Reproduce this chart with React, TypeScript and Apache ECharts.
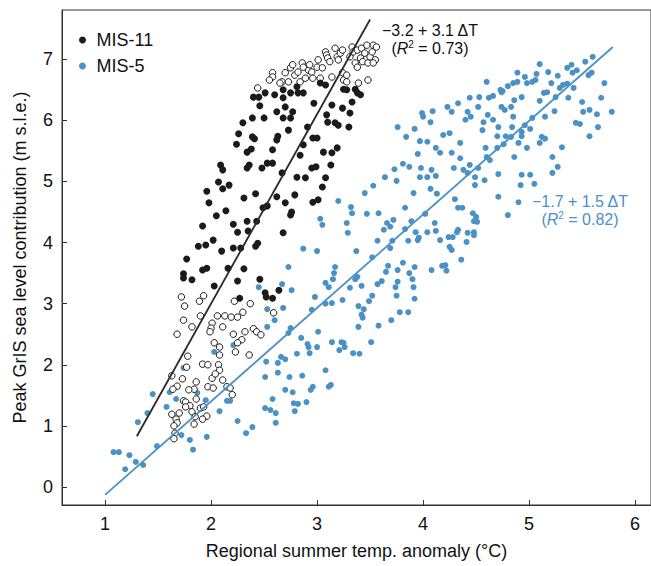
import React, { useEffect, useRef } from "react";
import * as echarts from "echarts";

const FONT = '"Liberation Sans", Arial, Helvetica, sans-serif';
const BLACK = "#1b1b1b";
const BLUE = "#4a91c6";

const xTicks = [1, 2, 3, 4, 5, 6];
const yTicks = [0, 1, 2, 3, 4, 5, 6, 7];

// MIS-11, filled markers
const mis11Filled: number[][] = [
  [2.40, 6.38], [2.45, 6.38], [2.51, 6.45], [2.46, 6.24], [2.30, 5.96], [2.39, 6.04], [2.50, 6.04],
  [2.26, 5.78], [2.39, 5.73], [2.41, 5.70], [2.24, 5.61], [2.34, 5.48], [2.38, 5.53], [2.09, 5.27],
  [2.11, 5.19], [2.34, 5.22], [2.36, 5.27], [2.48, 5.22], [2.53, 5.30], [2.07, 4.99], [2.11, 4.88],
  [2.17, 4.94], [1.96, 4.84], [1.98, 4.65], [2.31, 4.73], [2.42, 4.80], [2.49, 4.57], [2.53, 4.60],
  [2.05, 4.44], [2.14, 4.52], [1.92, 4.27], [2.21, 4.30], [2.34, 4.35], [2.43, 4.35], [2.25, 4.17],
  [2.35, 4.19], [1.88, 3.94], [1.95, 3.96], [2.02, 4.04], [2.10, 3.86], [2.21, 3.91], [2.28, 3.91],
  [2.42, 3.94], [2.44, 3.99], [1.77, 3.73], [1.74, 3.49], [1.74, 3.42], [1.82, 3.39], [1.92, 3.55],
  [1.96, 3.58], [2.16, 3.58], [2.31, 3.57], [2.03, 3.29], [2.25, 3.37], [2.46, 3.40], [2.27, 3.09],
  [2.51, 3.18], [2.52, 3.11], [2.58, 3.09], [2.64, 3.22],
  [2.60, 6.42], [2.68, 6.50], [2.68, 6.37], [2.75, 6.45], [2.81, 6.55], [2.82, 6.45], [2.87, 6.45],
  [2.62, 6.14], [2.70, 6.22], [2.77, 6.14], [2.68, 6.04], [2.75, 6.04], [2.63, 5.74], [2.73, 5.84],
  [2.62, 5.68], [2.58, 5.52], [2.58, 5.30], [2.91, 5.89], [2.96, 5.71], [3.00, 5.71], [2.87, 5.60],
  [2.84, 5.43], [2.67, 5.14], [2.81, 5.07], [2.89, 5.06], [2.95, 5.22], [3.08, 5.06], [3.14, 5.47],
  [3.19, 5.55], [3.13, 5.27], [3.05, 4.91], [2.96, 4.66], [3.01, 4.70], [2.62, 4.75], [2.70, 4.65],
  [2.76, 4.50], [2.75, 4.45], [2.79, 4.78], [2.68, 4.16], [3.10, 5.97], [3.17, 5.96], [3.20, 5.92],
  [3.30, 5.89], [3.14, 6.25], [3.24, 6.20], [3.31, 6.12], [3.33, 6.30], [3.25, 6.51], [3.36, 6.51],
  [3.38, 6.45], [3.03, 6.61], [3.08, 6.58], [3.28, 6.50], [3.41, 6.42], [2.97, 6.28], [3.09, 6.09],
  [3.06, 5.48], [2.99, 5.24],
];

// MIS-11, open markers
const mis11Open: number[][] = [
  [2.44, 6.53], [2.58, 6.78], [2.58, 6.71], [2.70, 6.78], [2.67, 6.63], [2.73, 6.63], [2.75, 6.86],
  [2.77, 6.91], [2.79, 6.74], [2.82, 6.79], [2.86, 6.94], [2.87, 6.87], [2.89, 6.69], [2.92, 6.82],
  [2.93, 6.91], [2.95, 6.79], [2.96, 6.69], [3.00, 6.87], [3.01, 6.99], [3.03, 6.69], [3.05, 6.86],
  [3.08, 7.12], [3.09, 7.07], [3.10, 7.02], [3.12, 6.96], [3.14, 6.71], [3.17, 7.18], [3.19, 7.04],
  [3.20, 6.99], [3.22, 7.10], [3.24, 7.15], [3.24, 6.78], [3.25, 6.66], [3.28, 6.74], [3.31, 7.04],
  [3.33, 7.20], [3.34, 7.12], [3.36, 6.94], [3.38, 7.15], [3.38, 6.87], [3.39, 6.61], [3.41, 7.02],
  [3.42, 7.18], [3.43, 6.96], [3.45, 7.10], [3.47, 7.23], [3.48, 6.94], [3.50, 7.04], [3.52, 7.12],
  [3.53, 7.23], [3.55, 6.99], [3.48, 6.66], [3.28, 6.63], [3.53, 6.94], [3.56, 7.20], [2.55, 6.66],
  [2.65, 6.61], [2.84, 6.63],
  [1.72, 3.11], [1.75, 2.96], [1.89, 3.04], [1.93, 3.13], [1.74, 2.73], [1.82, 2.62], [1.90, 2.80],
  [1.68, 2.50], [2.01, 2.68], [2.00, 2.60], [1.99, 2.54], [2.06, 2.80], [2.13, 2.80], [2.19, 2.78],
  [2.25, 2.78], [2.30, 2.86], [2.37, 3.00], [2.22, 3.04], [2.11, 2.62], [2.21, 2.50], [2.32, 2.54],
  [2.40, 2.59], [2.43, 2.54], [2.47, 2.49], [2.03, 2.36], [2.08, 2.29], [2.08, 2.16], [2.29, 2.41],
  [2.25, 2.36], [2.23, 2.21], [2.36, 2.16], [1.78, 2.14], [1.77, 1.96], [1.63, 1.82], [1.73, 1.77],
  [1.92, 2.01], [1.97, 2.00], [2.07, 2.00], [2.08, 1.91], [2.01, 1.78], [2.04, 1.85], [2.11, 1.75],
  [1.86, 1.72], [1.84, 1.60], [1.79, 1.59], [1.68, 1.65], [1.64, 1.60], [1.97, 1.64], [2.02, 1.62],
  [2.15, 1.64], [2.18, 1.62], [2.20, 1.51], [1.74, 1.41], [1.76, 1.39], [1.80, 1.33], [1.76, 1.31],
  [1.86, 1.44], [1.63, 1.19], [1.70, 1.21], [1.67, 1.11], [1.68, 1.05], [1.65, 1.00], [1.66, 0.88],
  [1.65, 0.79], [1.82, 1.23], [1.85, 1.15], [1.84, 1.03], [1.90, 1.29], [1.93, 1.31], [1.96, 1.16],
  [1.92, 1.11], [2.59, 2.85],
];

// MIS-5
const mis5: number[][] = [
  [1.08, 0.57], [1.13, 0.57], [1.23, 0.52], [1.19, 0.29], [1.29, 0.41], [1.36, 0.36], [1.31, 1.06],
  [1.40, 1.21], [1.45, 1.52], [1.49, 0.67], [1.58, 1.31], [1.61, 1.55], [1.67, 1.44], [1.74, 1.95],
  [1.72, 0.85], [1.80, 0.77], [1.83, 0.61], [1.87, 1.54], [1.95, 1.42], [1.96, 0.82], [2.03, 2.21],
  [2.08, 1.24], [2.15, 1.41], [2.18, 1.41], [2.25, 1.08], [2.33, 0.88], [2.39, 0.98], [2.21, 2.32],
  [2.36, 2.16], [2.45, 3.27], [2.51, 1.80], [2.51, 1.29], [2.53, 2.91], [2.56, 1.26], [2.60, 2.73],
  [2.58, 1.44], [2.61, 1.21], [2.61, 1.05], [2.53, 2.62], [2.52, 2.05], [2.63, 2.03], [2.68, 2.93],
  [2.63, 1.87], [2.66, 2.13], [2.70, 2.09], [2.73, 2.52], [2.75, 2.60], [2.73, 3.60], [2.76, 3.22],
  [2.70, 1.59], [2.77, 1.55], [2.79, 1.24], [2.81, 2.18], [2.82, 1.36], [2.85, 2.44], [2.86, 1.82],
  [2.90, 1.39], [2.91, 2.34], [2.92, 2.29], [2.93, 2.19], [2.94, 1.59], [2.98, 3.11], [2.95, 2.90],
  [3.00, 2.29], [3.01, 2.54], [3.08, 1.91], [3.08, 3.34], [3.11, 3.27], [3.11, 1.64], [3.13, 1.67],
  [3.14, 3.01], [3.16, 3.50], [3.17, 3.60], [3.15, 3.40], [3.23, 2.37], [3.25, 2.36], [3.26, 2.29],
  [3.24, 3.06], [3.21, 2.24], [3.31, 3.26], [3.36, 3.40], [3.34, 2.19], [3.39, 2.96], [3.39, 2.62],
  [3.40, 2.18], [3.44, 2.91], [3.42, 2.82], [3.43, 2.77], [3.49, 3.04], [3.52, 3.13], [3.08, 3.00],
  [3.42, 3.29], [3.38, 3.44], [3.57, 3.32], [3.61, 3.37], [3.65, 3.52], [3.67, 3.62], [3.52, 3.76],
  [3.69, 3.91], [3.76, 3.55], [3.81, 3.67], [3.92, 3.60], [3.87, 3.50], [3.90, 3.40], [3.76, 3.36],
  [3.74, 3.27], [3.91, 3.27], [3.75, 3.13], [3.92, 3.08], [3.78, 2.86], [3.86, 2.86], [3.70, 2.73],
  [3.58, 2.64], [3.51, 2.37], [3.14, 2.37], [2.74, 1.80], [2.96, 1.64], [2.78, 1.37], [4.08, 3.55],
  [4.18, 3.62], [4.22, 3.54], [4.36, 3.72], [4.27, 3.88], [4.24, 4.09], [4.28, 4.09], [4.41, 4.01],
  [4.48, 4.12], [4.21, 3.63], [3.57, 4.03], [3.71, 4.03], [3.86, 4.03], [3.96, 4.08], [2.87, 3.90],
  [3.00, 3.86], [3.37, 3.86], [2.67, 3.32],
  [3.99, 6.12], [4.09, 6.15], [4.00, 6.06], [4.07, 5.97], [3.76, 5.89], [3.92, 5.86], [3.84, 5.73],
  [3.97, 5.66], [4.04, 5.65], [4.12, 5.55], [4.16, 5.47], [4.19, 5.76], [3.81, 5.29], [3.87, 5.24],
  [3.98, 5.22], [4.08, 5.19], [3.73, 5.20], [3.64, 5.07], [3.75, 5.01], [3.97, 5.07], [4.04, 5.07],
  [4.12, 5.09], [4.07, 4.88], [4.13, 4.80], [3.91, 4.81], [3.53, 4.93], [3.45, 4.81], [3.20, 4.68],
  [3.32, 4.58], [3.33, 4.48], [3.47, 4.47], [3.58, 4.48], [3.83, 4.57], [4.02, 4.47], [3.03, 4.39],
  [3.05, 4.29], [3.28, 4.32], [3.29, 4.16], [3.66, 4.32], [3.69, 4.26], [3.63, 4.21], [3.83, 4.22],
  [3.89, 4.35], [3.93, 4.17], [4.04, 4.17], [4.11, 4.32], [4.16, 4.04], [4.25, 3.93], [4.32, 4.17],
  [4.42, 4.16], [3.95, 5.45], [3.72, 4.37], [4.12, 4.19], [3.95, 4.04],
  [4.60, 6.63], [4.73, 6.50], [4.75, 6.48], [4.80, 6.56], [4.85, 6.61], [4.89, 6.63], [4.89, 6.78],
  [4.96, 6.71], [4.98, 6.61], [5.03, 6.63], [5.06, 6.66], [5.07, 6.76], [5.10, 6.92], [5.18, 6.79],
  [5.21, 6.61], [5.27, 6.73], [5.32, 6.58], [5.36, 6.60], [5.40, 6.91], [5.36, 6.86], [5.41, 6.78],
  [5.45, 6.82], [5.53, 6.96], [5.60, 7.04], [5.59, 6.78], [5.56, 6.74], [5.71, 6.61], [5.68, 6.37],
  [5.78, 6.14], [5.64, 6.10], [5.65, 5.89], [5.57, 5.74], [5.51, 6.14], [5.57, 6.17], [5.50, 6.30],
  [5.44, 5.96], [5.48, 5.94], [5.37, 6.37], [5.42, 6.53], [5.29, 6.53], [5.25, 6.38], [5.17, 6.46],
  [5.14, 6.45], [5.10, 6.32], [5.24, 6.15], [5.15, 6.06], [5.03, 6.04], [4.93, 6.38], [4.86, 6.33],
  [4.83, 6.22], [4.85, 6.06], [4.77, 6.17], [4.74, 6.22], [4.74, 6.46], [4.66, 6.40], [4.62, 6.37],
  [4.53, 6.38], [4.52, 6.22], [4.44, 6.37], [4.33, 6.28], [4.27, 6.14], [4.23, 6.22], [4.42, 6.14],
  [4.40, 6.01], [4.45, 6.06], [4.61, 6.09], [4.66, 6.01], [4.57, 5.97], [4.71, 5.89], [4.56, 5.84],
  [4.84, 5.89], [4.96, 5.92], [5.01, 5.86], [4.93, 5.81], [4.93, 5.74], [4.83, 5.73], [4.70, 5.74],
  [4.78, 5.74], [4.76, 5.61], [4.90, 5.63], [5.12, 5.73], [5.15, 5.70], [5.10, 5.63], [5.31, 5.56],
  [4.98, 5.55], [4.70, 5.55], [4.59, 5.55], [4.35, 5.63], [4.25, 5.79], [4.27, 5.47], [4.35, 5.38],
  [4.44, 5.27], [4.60, 5.40], [4.63, 5.35], [4.52, 5.22], [4.38, 5.19], [4.29, 5.22], [4.42, 5.14],
  [4.49, 5.07], [4.49, 4.94], [4.58, 5.02], [4.71, 5.12], [4.86, 5.40], [4.93, 5.11], [5.01, 5.11],
  [4.92, 4.94], [5.05, 4.96], [5.22, 5.40], [5.27, 5.24], [5.22, 5.14], [4.71, 4.75], [4.90, 4.66],
  [4.80, 4.45], [4.30, 4.71], [4.33, 4.57], [4.37, 4.57], [4.47, 4.48], [4.50, 4.42], [4.48, 4.35],
  [4.51, 4.34], [4.33, 4.21], [4.48, 4.17],
];

// regression lines (end points)
const mis11Fit: number[][] = [[1.3, 0.83], [3.5, 7.65]];
const mis5Fit: number[][] = [[1.0, -0.13], [5.79, 7.2]];

const mis11Eq = ["−3.2 + 3.1 ΔT", "0.73"];
const mis5Eq = ["−1.7 + 1.5 ΔT", "0.82"];

export default function App() {
  const ref = useRef<HTMLDivElement>(null);
  useEffect(() => {
    if (!ref.current) return;
    const chart = echarts.init(ref.current, null, { renderer: "svg" });
    const eqRich = {
      p: { fontSize: 16, fontFamily: FONT, lineHeight: 18 },
      i: { fontStyle: "italic", fontSize: 16, fontFamily: FONT, lineHeight: 18 },
      s: { fontSize: 10, fontFamily: FONT, verticalAlign: "top", lineHeight: 8 },
    };
    const eqText = (eq: string[]) => `{p|${eq[0]}}\n{p|(}{i|R}{s|2}{p| = ${eq[1]})}`;
    chart.setOption({
      animation: false,
      backgroundColor: "#fff",
      textStyle: { fontFamily: FONT },
      grid: { left: 62, right: 0, top: 10, bottom: 61, show: true, borderColor: "#333", borderWidth: 1 },
      legend: {
        orient: "vertical",
        left: 74,
        top: 26,
        itemWidth: 18,
        itemHeight: 7,
        itemGap: 8,
        textStyle: { fontSize: 18, lineHeight: 18, color: "#111", fontFamily: FONT },
        data: [
          { name: "MIS-11", icon: "circle", itemStyle: { color: BLACK } },
          { name: "MIS-5", icon: "circle", itemStyle: { color: BLUE } },
        ],
      },
      xAxis: {
        type: "value",
        min: 0.594,
        max: 6.15,
        name: "Regional summer temp. anomaly (°C)",
        nameLocation: "middle",
        nameGap: 37,
        nameTextStyle: { fontSize: 18, color: "#111", fontFamily: FONT },
        axisLine: { show: true, onZero: false, lineStyle: { color: "#333", width: 1 } },
        axisTick: { show: true, inside: true, length: 5, customValues: xTicks, lineStyle: { color: "#333" } },
        axisLabel: { customValues: xTicks, fontSize: 18, color: "#111", margin: 10, fontFamily: FONT },
        splitLine: { show: false },
      },
      yAxis: {
        type: "value",
        min: -0.295,
        max: 7.806,
        name: "Peak GrIS sea level contribution (m s.l.e.)",
        nameLocation: "middle",
        nameGap: 33,
        nameTextStyle: { fontSize: 18, color: "#111", fontFamily: FONT },
        axisLine: { show: true, onZero: false, lineStyle: { color: "#333", width: 1 } },
        axisTick: { show: true, inside: true, length: 5, customValues: yTicks, lineStyle: { color: "#333" } },
        axisLabel: { customValues: yTicks, fontSize: 18, color: "#111", margin: 9, fontFamily: FONT },
        splitLine: { show: false },
      },
      graphic: [
        {
          type: "text",
          x: 430,
          y: 21,
          style: {
            text: eqText(mis11Eq),
            align: "center",
            verticalAlign: "top",
            fontSize: 16,
            fontFamily: FONT,
            fill: "#111",
            rich: eqRich,
          },
        },
        {
          type: "text",
          x: 580,
          y: 192,
          style: {
            text: eqText(mis5Eq),
            align: "center",
            verticalAlign: "top",
            fontSize: 16,
            fontFamily: FONT,
            fill: BLUE,
            rich: eqRich,
          },
        },
      ],
      series: [
        {
          name: "MIS-5",
          type: "scatter",
          data: mis5,
          symbol: "circle",
          symbolSize: 6,
          itemStyle: { color: BLUE, opacity: 1 },
          z: 2,
        },
        {
          name: "MIS-11 (open)",
          type: "scatter",
          data: mis11Open,
          symbol: "circle",
          symbolSize: 6.5,
          itemStyle: { color: "#fff", borderColor: BLACK, borderWidth: 1, opacity: 1 },
          z: 3,
        },
        {
          name: "MIS-11",
          type: "scatter",
          data: mis11Filled,
          symbol: "circle",
          symbolSize: 7,
          itemStyle: { color: BLACK, opacity: 1 },
          z: 3,
        },
        {
          name: "MIS-11 fit",
          type: "line",
          data: mis11Fit,
          symbol: "none",
          lineStyle: { color: "#2a2a2a", width: 1.8 },
          z: 4,
        },
        {
          name: "MIS-5 fit",
          type: "line",
          data: mis5Fit,
          symbol: "none",
          lineStyle: { color: BLUE, width: 1.8 },
          z: 4,
        },
      ],
    });
    return () => chart.dispose();
  }, []);
  return (
    <div
      ref={ref}
      style={{ position: "fixed", left: 0, top: 0, width: 651, height: 566, background: "#fff" }}
    />
  );
}
